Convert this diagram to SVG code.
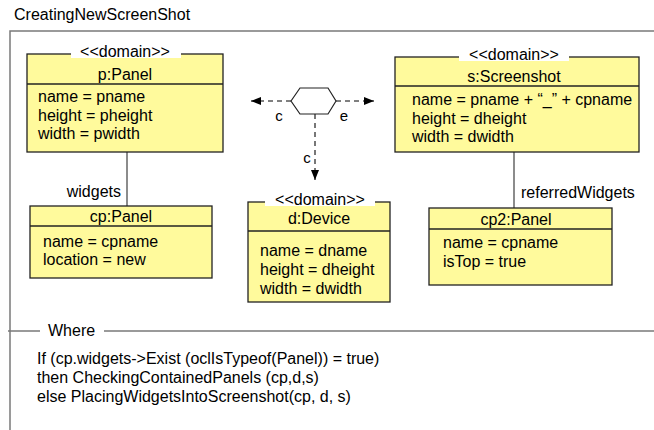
<svg xmlns="http://www.w3.org/2000/svg" width="654" height="430" viewBox="0 0 654 430">
<defs>
<marker id="arr" viewBox="0 0 10 10" refX="10" refY="5" markerWidth="10" markerHeight="10" markerUnits="userSpaceOnUse" orient="auto">
<path d="M0,1 L10,5 L0,9 Z" fill="#000"/>
</marker>
<style>
text{font-family:"Liberation Sans",Arial,sans-serif;font-size:16px;fill:#000}
.box{fill:#FFFA9C;stroke:#222;stroke-width:1.3}
.div{stroke:#222;stroke-width:1.3}
.st{text-anchor:middle}
.nm{text-anchor:middle}
.bg{fill:#fff}
.frame{stroke:#7a7a7a;stroke-width:1.5;fill:none}
.link{stroke:#666;stroke-width:1.5;fill:none}
.dash{stroke:#000;stroke-width:1;stroke-dasharray:5,4;fill:none}
.dashg{stroke:#777;stroke-width:2;stroke-dasharray:5,4;fill:none}
.lbl{font-size:15px}
</style>
</defs>
<rect width="654" height="430" fill="#fff"/>
<text x="14" y="20">CreatingNewScreenShot</text>
<g id="frame">
<path class="frame" d="M10,430 V31 H654"/>
<path class="frame" d="M8,331 H40 M104,331 H654"/>
<text x="48" y="336">Where</text>
</g>
<g id="connectors">
<path class="link" d="M127,152 V206"/>
<path class="link" d="M514,152 V208"/>
<text x="121" y="197" text-anchor="end">widgets</text>
<text x="521" y="198">referredWidgets</text>
<path class="dash" d="M291,101 H251" marker-end="url(#arr)"/>
<path class="dash" d="M336,101 H374" marker-end="url(#arr)"/>
<path class="dashg" d="M315,114 V180" marker-end="url(#arr)"/>
<text class="lbl" x="279" y="121" text-anchor="middle">c</text>
<text class="lbl" x="344" y="121" text-anchor="middle">e</text>
<text class="lbl" x="307" y="163" text-anchor="middle">c</text>
</g>
<g id="hexagon">
<path d="M291,101 L300,88 L328,88 L336,101 L328,114 L300,114 Z" fill="#fff" stroke="#222" stroke-width="1.2"/>
</g>
<g id="pPanel">
<rect class="box" x="27" y="54" width="196" height="98"/>
<line class="div" x1="27" y1="84" x2="223" y2="84"/>
<rect class="bg" x="71" y="43" width="110" height="15"/>
<text class="st" x="125" y="57">&lt;&lt;domain&gt;&gt;</text>
<text class="nm" x="125" y="80">p:Panel</text>
<text x="38" y="102">name = pname</text>
<text x="38" y="121">height = pheight</text>
<text x="38" y="139">width = pwidth</text>
</g>
<g id="sScreenshot">
<rect class="box" x="395" y="57" width="244" height="95"/>
<line class="div" x1="395" y1="86" x2="639" y2="86"/>
<rect class="bg" x="459" y="46" width="110" height="15"/>
<text class="st" x="514" y="60">&lt;&lt;domain&gt;&gt;</text>
<text class="nm" x="514" y="82">s:Screenshot</text>
<text x="412" y="105">name = pname + “_” + cpname</text>
<text x="412" y="124">height = dheight</text>
<text x="412" y="142">width = dwidth</text>
</g>
<g id="cpPanel">
<rect class="box" x="30" y="206" width="182" height="72"/>
<line class="div" x1="30" y1="226" x2="212" y2="226"/>
<text class="nm" x="121" y="222">cp:Panel</text>
<text x="43" y="247">name = cpname</text>
<text x="43" y="265">location = new</text>
</g>
<g id="dDevice">
<rect class="box" x="248" y="202" width="142" height="100"/>
<line class="div" x1="248" y1="231" x2="390" y2="231"/>
<rect class="bg" x="265" y="191" width="110" height="15"/>
<text class="st" x="320" y="205">&lt;&lt;domain&gt;&gt;</text>
<text class="nm" x="319" y="224">d:Device</text>
<text x="260" y="256">name = dname</text>
<text x="260" y="275">height = dheight</text>
<text x="260" y="294">width = dwidth</text>
</g>
<g id="cp2Panel">
<rect class="box" x="429" y="208" width="183" height="77"/>
<line class="div" x1="429" y1="229" x2="612" y2="229"/>
<text class="nm" x="516" y="225">cp2:Panel</text>
<text x="443" y="248">name = cpname</text>
<text x="443" y="267">isTop = true</text>
</g>
<g id="where">
<text x="37" y="364">If (cp.widgets-&gt;Exist (oclIsTypeof(Panel)) = true)</text>
<text x="37" y="383">then CheckingContainedPanels (cp,d,s)</text>
<text x="37" y="402">else PlacingWidgetsIntoScreenshot(cp, d, s)</text>
</g>
</svg>
